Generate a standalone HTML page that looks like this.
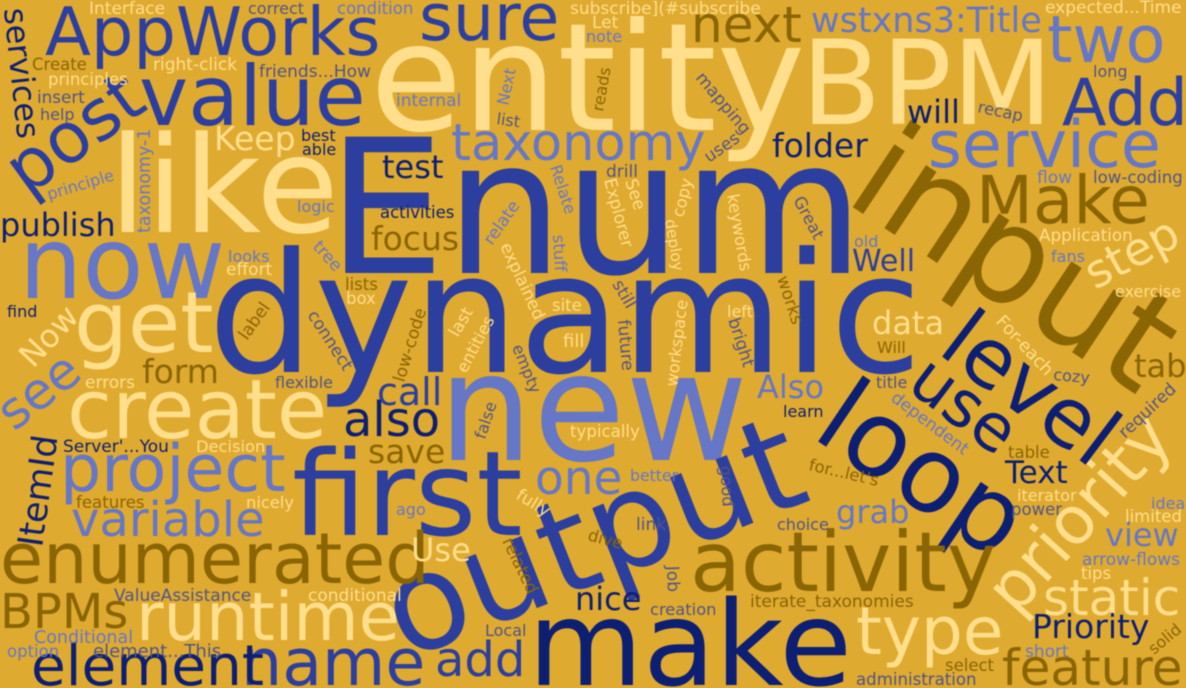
<!DOCTYPE html>
<html lang="en">
<head>
<meta charset="utf-8">
<title>Word cloud</title>
<style>
html,body{margin:0;padding:0;width:1186px;height:688px;overflow:hidden;background:#dfaa30}
#cloud{display:block;filter:blur(.6px)}
#cloud text{font-family:"DejaVu Sans","Liberation Sans",sans-serif;white-space:pre}
</style>
</head>
<body>
<svg id="cloud" width="1186" height="688" viewBox="0 0 1186 688" xmlns="http://www.w3.org/2000/svg">
<rect width="1186" height="688" fill="#dfaa30"></rect>
</svg>
<script>
const words = [
"entity","Enum","dynamic","new","input","output","BPM","like","first","make",
"loop","now","activity","get","value","level","create","enumerated","post","AppWorks",
"service","use","project","runtime","name","type","priority","sure","two","Add",
"Make","element","static","feature","taxonomy","next","see","step","variable","BPMs",
"also","add","one","call","wstxns3:Title","ItemId","folder","Keep","focus","form",
"save","Priority","test","will","services","publish","Also","data","tab","Text",
"grab","view","nice","Use","Well","Now",
"Interface","correct","condition","Create","right-click","friends...How","principles","insert","help","best",
"able","principle","taxonomy-1","logic","subscribe](#subscribe","Let","note","internal","Next","list",
"reads","mapping","uses","drill","Relate","Explorer","See","copy","deploy","keywords",
"Great","recap","long","expected...Time","flow","low-coding","activities","looks","effort","tree",
"lists","box","find","label","connect","errors","flexible","Server'...You","Decision","relate",
"stuff","explained","still","site","last","entities","low-code","empty","fill","future",
"workspace","works","left","bright","typically","false","learn","old","Application","fans",
"exercise","Will","title","cozy","For-each","dependent","required","table","for...let's","iterator",
"power","idea","limited","choice","arrow-flows","tips","iterate_taxonomies","short","solid","select",
"administration","better","good","fully","ago","link","related","dive","Job","creation",
"Local","ValueAssistance","conditional","Conditional","option","element...This","features","nicely"
];
const weights = [
150,187,167,150,138,133,117,134,118,118,
105,100,83,85,83,82,82,70,70,67,
65,65,65,67,65,66,66,65,65,65,
66,56.5,50,50,51,50,51,46,48,48,
48,48,47,38,35,35,33,33,33,33,
33,33,32,32,32,32,32,32,32,31,
32,32,32,32,30,32,
17,16,16.5,16.5,17,17,16.5,16.8,16,16,
16,16,17.5,16,17,17,16,17,16,16,
16,17,17,17,16,17,17,16.5,15.5,16.5,
16.5,16.3,16,17,17,16.6,16.5,16,17,17,
16.5,16.5,16,17,17,17,16,17,16.3,17,
16.5,17,17,16.5,17,16.5,17,16,18,17,
16.3,17,16,17,16.6,16,16,16,16.8,16,
16,16,16,16,17.5,17,17,16.5,16.5,16,
16.5,16,16.5,16,17,16.5,17,17,16,16.5,
16.6,15.7,16.5,17,16,17,17,16.5,17,16.3,
16,17,17,17.5,16.5,18,16.6,16.3
];
const tones = [
"C","B","B","L","R","B","C","C","B","N",
"N","L","R","C","B","N","C","R","B","B",
"L","N","L","C","B","C","C","B","L","B",
"R","N","C","R","L","R","L","C","L","R",
"N","B","L","B","L","N","N","C","R","R",
"R","N","N","N","N","N","L","C","R","N",
"L","L","N","C","B","C",
"C","S","L","R","C","S","C","S","S","N",
"N","L","L","L","C","C","L","L","L","S",
"R","S","S","S","L","C","C","C","C","C",
"S","S","S","C","L","S","N","L","C","L",
"R","C","N","R","S","C","S","N","C","L",
"L","C","S","C","C","C","R","S","C","S",
"C","R","C","S","C","S","N","L","C","L",
"C","R","S","S","C","L","S","R","R","C",
"S","L","C","S","L","C","R","L","R","R",
"S","L","S","C","L","S","R","R","S","S",
"S","S","C","L","L","S","R","C"
];
const anchors = {
"entity":[370,130,0],"Enum":[327,273,0],"dynamic":[208,372,0],"new":[438,460,0],"input":[842,200,33.5],
"output":[405,660,-21.5],"BPM":[801,124,0],"like":[109,232,0],"first":[292,535,0],"make":[528,685,0],
"loop":[810,436,34],"now":[19,298,0],"activity":[690,591,0],"get":[74,352,0],"value":[139,125,0],
"level":[936,352,37],"create":[67,438,0],"enumerated":[0,583,0],"post":[27,197,-36],"AppWorks":[45,55,0],
"service":[928,167,0],"use":[905,388,37],"project":[60,491,0],"runtime":[136,640,0],"name":[241,685,0],
"type":[856,654,0],"priority":[1016,617,-48],"sure":[419,40,0],"two":[1047,62,0],"Add":[1062,125,0],
"Make":[976,223,0],"element":[31,685,0],"static":[1043,615,0],"feature":[1002,685,0],"taxonomy":[451,160,0],
"next":[691,42,0],"see":[14,432,-38],"step":[1095,290,-28],"variable":[71,536,0],"BPMs":[0,628,0],
"also":[343,436,0],"add":[435,676,0],"one":[535,494,0],"call":[377,405,0],"wstxns3:Title":[811,32,0],
"ItemId":[42,548,-82],"folder":[772,157,0],"Keep":[214,150,0],"focus":[371,250,0],"form":[142,383,0],
"save":[368,463,0],"Priority":[1032,638,0],"test":[382,178,0],"will":[907,123,0],"services":[4,9,84],
"publish":[0,236,0],"Also":[757,398,0],"data":[872,334,0],"tab":[1134,377,0],"Text":[1005,483,0],
"grab":[836,523,0],"view":[1105,546,0],"nice":[575,610,0],"Use":[411,561,0],"Well":[852,271,0],"Now":[33,369,-47],
"Interface":[89,14,0],"correct":[248,14,0],"condition":[337,14,0],"Create":[32,70,0],"right-click":[153,70,0],
"friends...How":[259,77,0],"principles":[48,85,0],"insert":[37,103,0],"help":[40,120,0],"best":[301,141,0],
"able":[302,155,0],"principle":[49,200,-17],"taxonomy-1":[150,233,-90],"logic":[297,212,0],
"subscribe](#subscribe":[570,14,0],"Let":[592,28,0],"note":[586,42,0],"internal":[396,106,0],"Next":[508,106,-78],
"list":[496,124,8],"reads":[603,112,-80],"mapping":[695,78,50],"uses":[709,163,-35],"drill":[606,177,0],
"Relate":[550,167,72],"Explorer":[604,180,75],"See":[625,181,72],"copy":[683,218,-76],"deploy":[665,220,81],
"keywords":[727,195,80],"Great":[793,200,62],"recap":[977,112,12],"long":[1093,77,0],"expected...Time":[1045,13,0],
"flow":[1037,183,0],"low-coding":[1093,183,0],"activities":[380,218,0],"looks":[228,262,0],"effort":[226,275,0],
"tree":[312,247,48],"lists":[345,290,0],"box":[346,304,0],"find":[7,317,0],"label":[247,341,-55],
"connect":[307,315,57],"errors":[85,388,0],"flexible":[275,388,0],"Server'...You":[63,452,0],"Decision":[196,452,0],
"relate":[492,246,-55],"stuff":[553,235,87],"explained":[500,246,65],"still":[612,284,60],"site":[552,311,0],
"last":[458,338,-60],"entities":[466,374,-62],"low-code":[404,383,-73],"empty":[512,347,68],"fill":[563,347,0],
"future":[618,320,85],"workspace":[677,387,-83],"works":[777,278,72],"left":[727,317,0],"bright":[728,320,72],
"typically":[570,437,0],"false":[485,440,-72],"learn":[783,417,0],"old":[854,247,0],"Application":[1039,241,0],
"fans":[1051,262,0],"exercise":[1115,297,0],"Will":[877,353,0],"title":[876,388,0],"cozy":[1053,380,5],
"For-each":[995,322,47],"dependent":[890,400,37],"required":[1125,439,-43],"table":[1008,458,0],"for...let's":[808,470,13],
"iterator":[1017,501,0],"power":[1011,515,0],"idea":[1151,509,0],"limited":[1125,522,0],"choice":[777,530,0],
"arrow-flows":[1082,565,0],"tips":[1081,579,0],"iterate_taxonomies":[750,607,0],"short":[1025,657,0],"solid":[1154,655,-40],
"select":[945,671,0],"administration":[856,685,0],"better":[630,481,0],"good":[720,466,86],"fully":[515,498,32],
"ago":[396,515,0],"link":[636,530,0],"related":[502,541,64],"dive":[587,540,15],"Job":[667,566,88],
"creation":[650,615,0],"Local":[485,636,0],"ValueAssistance":[114,601,0],"conditional":[308,601,0],"Conditional":[34,643,0],
"option":[7,657,0],"element...This":[93,657,0],"features":[76,508,0],"nicely":[246,508,0]
};
const toneColors = {B:"#2c3f9f",L:"#6577c6",C:"#ffdf8c",R:"#8a6503",N:"#0d1f72",S:"#4f5488"};
const sizeScale = w => w;
const svgNS = "http://www.w3.org/2000/svg";
const cloud = document.getElementById("cloud");
words.forEach((word, i) => {
  const a = anchors[word];
  const el = document.createElementNS(svgNS, "text");
  
  
  el.setAttribute("x", a[0]);
  el.setAttribute("y", a[1]);
  el.setAttribute("font-size", sizeScale(weights[i]));
  el.setAttribute("fill", toneColors[tones[i]]);
  if (a[2]) el.setAttribute("transform", "rotate(" + a[2] + " " + a[0] + " " + a[1] + ")");
  el.textContent = word;
  cloud.appendChild(el);
});
</script>
</body>
</html>
